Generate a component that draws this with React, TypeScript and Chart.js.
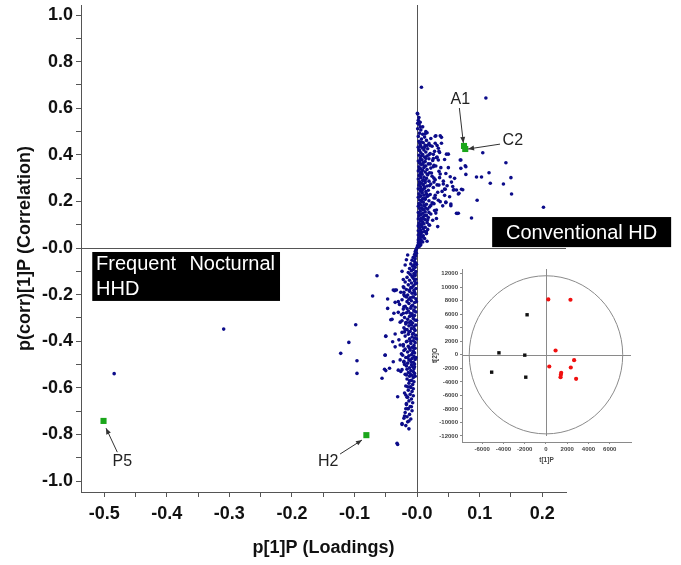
import { useEffect, useRef } from 'react';
import { Chart, registerables } from 'chart.js';

Chart.register(...registerables);

const FONT = "Arial, 'Liberation Sans', sans-serif";

// ---------- axis ticks ----------
const mainXTicks = [-0.5, -0.45, -0.4, -0.35, -0.3, -0.25, -0.2, -0.15, -0.1, -0.05, 0, 0.05, 0.1, 0.15, 0.2];
const mainXLabels = ['-0.5', '', '-0.4', '', '-0.3', '', '-0.2', '', '-0.1', '', '-0.0', '', '0.1', '', '0.2'];
const mainYTicks = [-1.0, -0.9, -0.8, -0.7, -0.6, -0.5, -0.4, -0.3, -0.2, -0.1, 0, 0.1, 0.2, 0.3, 0.4, 0.5, 0.6, 0.7, 0.8, 0.9, 1.0];
const mainYLabels = ['-1.0', '', '-0.8', '', '-0.6', '', '-0.4', '', '-0.2', '', '-0.0', '', '0.2', '', '0.4', '', '0.6', '', '0.8', '', '1.0'];
const insetXTicks = [-6000, -4000, -2000, 0, 2000, 4000, 6000];
const insetYTicks = [-12000, -10000, -8000, -6000, -4000, -2000, 0, 2000, 4000, 6000, 8000, 10000, 12000];

// ---------- S-plot data: [p[1]P loading, p(corr)[1]P correlation] ----------
const upperBand: [number, number][] = [
  [0.001,0.575],[0.002,0.548],[0.003,0.531],[0.001,0.512],[0.006,0.507],[0.004,0.493],[0.009,0.488],[0.002,0.479],[0.012,0.476],[0.007,0.468],
  [0.015,0.462],[0.003,0.458],[0.010,0.452],[0.019,0.449],[0.005,0.444],[0.013,0.441],[0.024,0.437],[0.002,0.433],[0.008,0.429],[0.017,0.426],
  [0.011,0.421],[0.004,0.418],[0.028,0.415],[0.014,0.412],[0.006,0.409],[0.021,0.405],[0.009,0.401],[0.003,0.398],[0.016,0.395],[0.012,0.391],
  [0.031,0.388],[0.005,0.386],[0.019,0.383],[0.008,0.379],[0.025,0.376],[0.002,0.373],[0.013,0.371],[0.010,0.367],[0.004,0.364],[0.018,0.361],
  [0.007,0.358],[0.027,0.355],[0.014,0.352],[0.003,0.349],[0.011,0.346],[0.022,0.343],[0.006,0.340],[0.016,0.337],[0.009,0.334],[0.002,0.331],
  [0.035,0.329],[0.013,0.326],[0.020,0.323],[0.005,0.320],[0.008,0.317],[0.017,0.314],[0.003,0.311],[0.024,0.308],[0.011,0.305],[0.006,0.302],
  [0.015,0.299],[0.002,0.296],[0.029,0.293],[0.009,0.290],[0.019,0.287],[0.004,0.284],[0.013,0.281],[0.007,0.278],[0.022,0.275],[0.010,0.272],
  [0.003,0.269],[0.016,0.266],[0.006,0.263],[0.026,0.260],[0.012,0.257],[0.002,0.254],[0.009,0.251],[0.018,0.248],[0.005,0.245],[0.014,0.242],
  [0.033,0.239],[0.008,0.236],[0.003,0.233],[0.021,0.230],[0.011,0.227],[0.006,0.224],[0.016,0.221],[0.002,0.218],[0.027,0.215],[0.009,0.212],
  [0.013,0.209],[0.004,0.206],[0.019,0.203],[0.007,0.200],[0.010,0.197],[0.024,0.194],[0.003,0.191],[0.015,0.188],[0.006,0.185],[0.012,0.182],
  [0.002,0.179],[0.020,0.176],[0.008,0.173],[0.004,0.170],[0.017,0.167],[0.011,0.164],[0.028,0.161],[0.005,0.158],[0.013,0.155],[0.002,0.152],
  [0.009,0.149],[0.022,0.146],[0.006,0.143],[0.015,0.140],[0.003,0.137],[0.010,0.134],[0.018,0.131],[0.007,0.128],[0.002,0.125],[0.013,0.122],
  [0.025,0.119],[0.005,0.116],[0.009,0.113],[0.016,0.110],[0.003,0.107],[0.011,0.104],[0.006,0.101],[0.020,0.098],[0.002,0.095],[0.008,0.092],
  [0.013,0.089],[0.004,0.086],[0.010,0.083],[0.017,0.080],[0.006,0.077],[0.002,0.074],[0.012,0.071],[0.008,0.068],[0.004,0.065],[0.015,0.062],
  [0.006,0.059],[0.002,0.056],[0.010,0.053],[0.005,0.050],[0.008,0.047],[0.003,0.044],[0.012,0.041],[0.005,0.038],[0.002,0.035],[0.007,0.032],
  [0.004,0.029],[0.009,0.026],[0.002,0.023],[0.005,0.020],[0.003,0.017],[0.006,0.014],[0.001,0.011],[0.004,0.008],[0.002,0.005],[0.000,0.002],
  [0.004,0.452],[0.006,0.437],[0.003,0.422],[0.007,0.395],[0.005,0.376],[0.009,0.362],[0.004,0.341],[0.007,0.327],[0.005,0.309],[0.010,0.293],
  [0.004,0.276],[0.006,0.256],[0.008,0.241],[0.004,0.221],[0.007,0.204],[0.005,0.187],[0.009,0.165],[0.004,0.146],[0.006,0.121],[0.003,0.094],
  [0.005,0.071],[0.007,0.455],[0.012,0.432],[0.014,0.384],[0.012,0.352],[0.016,0.318],[0.013,0.289],[0.012,0.262],[0.015,0.233],[0.013,0.213],
  [0.011,0.184],[0.014,0.172],[0.012,0.139],[0.009,0.126],[0.008,0.104],[0.021,0.361],[0.023,0.322],[0.020,0.268],[0.018,0.225],[0.022,0.183],
  [0.019,0.153],[0.017,0.121],[0.026,0.402],[0.030,0.352],[0.027,0.283],[0.029,0.226],[0.026,0.192],[0.032,0.271],[0.034,0.205],[0.036,0.302],
  [0.040,0.243],[0.038,0.345],[0.042,0.287],[0.044,0.226],[0.041,0.181],[0.048,0.267],[0.046,0.320],[0.050,0.345],[0.052,0.220],[0.055,0.283],
  [0.057,0.264],[0.035,0.415],[0.032,0.440],[0.022,0.470],[0.014,0.500],[0.009,0.520],[0.003,0.560],[0.005,0.540],
];

const lowerBand: [number, number][] = [
  [-0.001,-0.004],[-0.002,-0.010],[-0.003,-0.016],[-0.001,-0.022],[-0.004,-0.028],[-0.002,-0.034],[-0.006,-0.040],[-0.003,-0.046],[-0.008,-0.052],[-0.004,-0.058],
  [-0.002,-0.064],[-0.010,-0.068],[-0.005,-0.072],[-0.007,-0.078],[-0.003,-0.083],[-0.012,-0.088],[-0.006,-0.092],[-0.009,-0.097],[-0.002,-0.101],[-0.014,-0.105],
  [-0.005,-0.109],[-0.011,-0.113],[-0.003,-0.118],[-0.008,-0.122],[-0.016,-0.126],[-0.006,-0.130],[-0.002,-0.134],[-0.012,-0.138],[-0.004,-0.142],[-0.019,-0.146],
  [-0.009,-0.150],[-0.003,-0.154],[-0.014,-0.158],[-0.006,-0.162],[-0.022,-0.166],[-0.010,-0.170],[-0.002,-0.174],[-0.017,-0.178],[-0.005,-0.182],[-0.012,-0.186],
  [-0.026,-0.190],[-0.008,-0.194],[-0.003,-0.198],[-0.015,-0.202],[-0.020,-0.206],[-0.006,-0.210],[-0.011,-0.214],[-0.002,-0.218],[-0.024,-0.222],[-0.009,-0.226],
  [-0.016,-0.230],[-0.004,-0.234],[-0.013,-0.238],[-0.028,-0.242],[-0.007,-0.246],[-0.019,-0.250],[-0.003,-0.254],[-0.010,-0.258],[-0.022,-0.262],[-0.005,-0.266],
  [-0.014,-0.270],[-0.002,-0.274],[-0.017,-0.278],[-0.008,-0.282],[-0.025,-0.286],[-0.004,-0.290],[-0.012,-0.294],[-0.020,-0.298],[-0.006,-0.302],[-0.015,-0.306],
  [-0.003,-0.310],[-0.010,-0.314],[-0.027,-0.318],[-0.007,-0.322],[-0.018,-0.326],[-0.002,-0.330],[-0.013,-0.334],[-0.005,-0.338],[-0.021,-0.342],[-0.009,-0.346],
  [-0.016,-0.350],[-0.003,-0.354],[-0.011,-0.358],[-0.024,-0.362],[-0.006,-0.366],[-0.014,-0.370],[-0.002,-0.374],[-0.019,-0.378],[-0.008,-0.382],[-0.004,-0.386],
  [-0.012,-0.390],[-0.029,-0.394],[-0.006,-0.398],[-0.017,-0.402],[-0.003,-0.406],[-0.010,-0.410],[-0.022,-0.414],[-0.005,-0.418],[-0.014,-0.422],[-0.008,-0.426],
  [-0.003,-0.430],[-0.019,-0.434],[-0.011,-0.438],[-0.006,-0.442],[-0.015,-0.446],[-0.004,-0.450],[-0.025,-0.454],[-0.009,-0.458],[-0.013,-0.462],[-0.005,-0.466],
  [-0.018,-0.470],[-0.008,-0.474],[-0.003,-0.478],[-0.011,-0.482],[-0.021,-0.486],[-0.006,-0.490],[-0.015,-0.494],[-0.004,-0.498],[-0.009,-0.502],[-0.017,-0.506],
  [-0.007,-0.510],[-0.012,-0.514],[-0.005,-0.518],[-0.024,-0.522],[-0.010,-0.526],[-0.006,-0.530],[-0.014,-0.534],[-0.004,-0.538],[-0.019,-0.542],[-0.008,-0.546],
  [-0.012,-0.550],[-0.006,-0.556],[-0.016,-0.562],[-0.009,-0.568],[-0.005,-0.574],[-0.013,-0.580],[-0.007,-0.586],[-0.018,-0.592],[-0.010,-0.598],[-0.006,-0.604],
  [-0.014,-0.610],[-0.008,-0.616],[-0.020,-0.622],[-0.011,-0.628],[-0.006,-0.634],[-0.015,-0.640],[-0.009,-0.648],[-0.013,-0.656],[-0.007,-0.664],[-0.017,-0.672],
  [-0.011,-0.680],[-0.014,-0.690],[-0.008,-0.698],[-0.019,-0.706],[-0.012,-0.714],[-0.016,-0.724],[-0.010,-0.734],[-0.015,-0.746],[-0.018,-0.762],[-0.013,-0.776],
  [-0.001,-0.070],[-0.003,-0.110],[-0.001,-0.150],[-0.004,-0.190],[-0.001,-0.230],[-0.005,-0.270],[-0.001,-0.310],[-0.004,-0.350],[-0.001,-0.390],[-0.005,-0.430],
  [-0.002,-0.470],[-0.004,-0.510],[-0.003,-0.550],[-0.007,-0.120],[-0.008,-0.170],[-0.007,-0.210],[-0.009,-0.250],[-0.008,-0.290],[-0.009,-0.330],[-0.007,-0.370],
  [-0.010,-0.400],[-0.007,-0.450],[-0.009,-0.490],[-0.011,-0.540],[-0.012,-0.180],[-0.013,-0.220],[-0.011,-0.280],[-0.012,-0.320],[-0.013,-0.360],[-0.012,-0.430],
  [-0.013,-0.480],[-0.016,-0.400],[-0.018,-0.320],[-0.017,-0.210],[-0.016,-0.260],[-0.015,-0.470],[-0.016,-0.520],[-0.020,-0.360],[-0.021,-0.440],[-0.022,-0.280],
  [-0.020,-0.500],[-0.021,-0.190],
];

const scatteredUpper: [number, number][] = [
  [0.007,0.690],[0.110,0.644],[0.202,0.175],[0.142,0.366],[0.150,0.302],[0.151,0.232],[0.138,0.275],[0.117,0.278],[0.115,0.323],[0.105,0.409],
  [0.103,0.305],[0.095,0.305],[0.096,0.205],[0.087,0.129],[0.078,0.316],[0.070,0.378],[0.077,0.353],[0.070,0.342],[0.060,0.299],[0.053,0.306],
  [0.071,0.252],[0.067,0.235],[0.063,0.249],[0.058,0.249],[0.063,0.149],[0.066,0.149],[0.054,0.189],[0.046,0.197],[0.050,0.403],[0.039,0.475],
  [0.030,0.482],[0.016,0.495],[0.037,0.318],[0.033,0.092],[0.016,0.029],[0.045,0.252],[0.042,0.275],[0.035,0.270],[0.031,0.163],[0.027,0.190],
  [0.029,0.215],[0.027,0.300],[0.026,0.349],[0.034,0.378],[0.019,0.400],[0.026,0.384],[0.016,0.440],[0.021,0.440],[0.078,0.349],[0.073,0.250],
  [0.066,0.232],[0.046,0.195],[0.037,0.199],[0.031,0.127],[0.030,0.150],[0.019,0.100],[0.015,0.070],[0.0005,0.578],[0.001,0.535],[0.005,0.520],
  [0.013,0.490],[0.029,0.480],[0.037,0.482],[0.039,0.450],[0.029,0.450],[0.034,0.428],[0.036,0.410],[0.047,0.403],[0.044,0.380],[0.032,0.390],
  [0.069,0.378],[0.044,0.253],[0.059,0.250],[0.054,0.182],[0.064,0.148],
];

const scatteredLower: [number, number][] = [
  [-0.309,-0.348],[-0.484,-0.539],[-0.064,-0.119],[-0.071,-0.206],[-0.047,-0.219],[-0.098,-0.329],[-0.109,-0.405],[-0.050,-0.379],[-0.042,-0.308],[-0.039,-0.402],
  [-0.035,-0.369],[-0.030,-0.276],[-0.035,-0.233],[-0.030,-0.230],[-0.036,-0.183],[-0.033,-0.180],[-0.024,-0.100],[-0.022,-0.135],[-0.021,-0.170],[-0.021,-0.200],
  [-0.019,-0.073],[-0.017,-0.050],[-0.015,-0.030],[-0.021,-0.252],[-0.024,-0.312],[-0.017,-0.320],[-0.019,-0.350],[-0.027,-0.416],[-0.022,-0.420],[-0.122,-0.452],
  [-0.096,-0.484],[-0.096,-0.538],[-0.056,-0.559],[-0.050,-0.526],[-0.044,-0.516],[-0.051,-0.459],[-0.038,-0.488],[-0.030,-0.524],[-0.026,-0.530],[-0.027,-0.480],
  [-0.021,-0.490],[-0.023,-0.460],[-0.035,-0.424],[-0.017,-0.545],[-0.015,-0.595],[-0.011,-0.595],[-0.012,-0.570],[-0.031,-0.638],[-0.018,-0.631],[-0.016,-0.640],
  [-0.017,-0.667],[-0.018,-0.690],[-0.015,-0.690],[-0.009,-0.681],[-0.020,-0.721],[-0.013,-0.742],[-0.024,-0.757],[-0.031,-0.843],[-0.047,-0.259],[-0.052,-0.520],
  [-0.050,-0.378],[-0.051,-0.460],[-0.040,-0.306],[-0.037,-0.280],[-0.038,-0.180],[-0.035,-0.180],[-0.032,-0.838],[-0.024,-0.753],[-0.021,-0.730],
];

// highlighted variables (green) with their label and arrow positions (data units)
const highlightNames = ['A1', 'C2', 'P5', 'H2'];
const highlightX = [0.075, 0.077, -0.501, -0.081];
const highlightY = [0.438, 0.425, -0.742, -0.803];
const labelX = [0.069, 0.153, -0.471, -0.142];
const labelY = [0.635, 0.459, -0.918, -0.918];
const arrowTailX = [0.0676, 0.1326, -0.479, -0.123];
const arrowTailY = [0.601, 0.446, -0.876, -0.884];
const arrowHeadX = [0.074, 0.0815, -0.497, -0.088];
const arrowHeadY = [0.451, 0.425, -0.773, -0.824];

// ---------- Inset score plot ----------
const groupBlackT1 = [-1776, -4424, -1994, -5109, -1900];
const groupBlackT2 = [5926, 296, -49, -2568, -3309];
const groupRedT1 = [218, 2305, 903, 312, 2648, 2336, 1433, 1402, 1371, 2835];
const groupRedT2 = [8198, 8148, 642, -1728, -790, -1877, -2667, -2963, -3309, -3556];
const ellipseRadiusT1 = 7220;
const ellipseRadiusT2 = 11700;

function arrow(ctx: CanvasRenderingContext2D, x1: number, y1: number, x2: number, y2: number) {
  ctx.beginPath();
  ctx.moveTo(x1, y1);
  ctx.lineTo(x2, y2);
  ctx.stroke();
  const a = Math.atan2(y2 - y1, x2 - x1);
  const L = 6, W = 2.5;
  ctx.beginPath();
  ctx.moveTo(x2, y2);
  ctx.lineTo(x2 - L * Math.cos(a) + W * Math.sin(a), y2 - L * Math.sin(a) - W * Math.cos(a));
  ctx.lineTo(x2 - L * Math.cos(a) - W * Math.sin(a), y2 - L * Math.sin(a) + W * Math.cos(a));
  ctx.closePath();
  ctx.fill();
}

const setTicks = (values: number[]) => (s: any) => {
  s.ticks = values.map((value) => ({ value }));
};

const fitBox = (size: number, horizontal: boolean) => (s: any) => {
  if (horizontal) {
    s.height = size;
    s.paddingLeft = 0;
    s.paddingRight = 0;
  } else {
    s.width = size;
    s.paddingTop = 0;
    s.paddingBottom = 0;
  }
};

const mainDecor = {
  id: 'mainDecor',
  beforeDatasetsDraw(chart: any) {
    const { ctx, chartArea, scales } = chart;
    const x0 = scales.x.getPixelForValue(0);
    const y0 = scales.y.getPixelForValue(0);
    ctx.save();
    ctx.strokeStyle = '#555';
    ctx.lineWidth = 1;
    ctx.beginPath();
    ctx.moveTo(Math.round(x0) + 0.5, chartArea.top);
    ctx.lineTo(Math.round(x0) + 0.5, chartArea.bottom);
    ctx.moveTo(chartArea.left, Math.round(y0) + 0.5);
    ctx.lineTo(chartArea.right, Math.round(y0) + 0.5);
    ctx.stroke();
    ctx.restore();
  },
  afterDraw(chart: any) {
    const { ctx, scales } = chart;
    const px = (v: number) => scales.x.getPixelForValue(v);
    const py = (v: number) => scales.y.getPixelForValue(v);
    ctx.save();
    let bx1 = px(0.120), bx2 = px(0.406), by1 = py(0.133), by2 = py(0.004);
    ctx.fillStyle = '#000';
    ctx.fillRect(bx1, by1, bx2 - bx1, by2 - by1);
    ctx.fillStyle = '#fff';
    ctx.font = `20px ${FONT}`;
    ctx.textAlign = 'center';
    ctx.textBaseline = 'middle';
    ctx.fillText('Conventional HD', (bx1 + bx2) / 2, (by1 + by2) / 2 + 1);
    bx1 = px(-0.519); bx2 = px(-0.219); by1 = py(-0.017); by2 = py(-0.227);
    ctx.fillStyle = '#000';
    ctx.fillRect(bx1, by1, bx2 - bx1, by2 - by1);
    ctx.fillStyle = '#fff';
    ctx.textAlign = 'left';
    ctx.fillText('Frequent', px(-0.513), py(-0.069));
    ctx.fillText('HHD', px(-0.513), py(-0.176));
    ctx.textAlign = 'right';
    ctx.fillText('Nocturnal', px(-0.227), py(-0.069));
    ctx.strokeStyle = '#333';
    ctx.lineWidth = 1;
    ctx.font = `16px ${FONT}`;
    ctx.textAlign = 'center';
    highlightNames.forEach((n, i) => {
      ctx.fillStyle = '#222';
      ctx.fillText(n, px(labelX[i]), py(labelY[i]));
      ctx.fillStyle = '#333';
      arrow(ctx, px(arrowTailX[i]), py(arrowTailY[i]), px(arrowHeadX[i]), py(arrowHeadY[i]));
    });
    ctx.restore();
  },
};

const insetDecor = {
  id: 'insetDecor',
  beforeDatasetsDraw(chart: any) {
    const { ctx, chartArea, scales } = chart;
    const x0 = scales.x.getPixelForValue(0);
    const y0 = scales.y.getPixelForValue(0);
    ctx.save();
    ctx.strokeStyle = '#8a8a8a';
    ctx.lineWidth = 1;
    ctx.beginPath();
    ctx.moveTo(Math.round(x0) + 0.5, chartArea.top);
    ctx.lineTo(Math.round(x0) + 0.5, chartArea.bottom - 6);
    ctx.moveTo(chartArea.left, Math.round(y0) + 0.5);
    ctx.lineTo(chartArea.right, Math.round(y0) + 0.5);
    ctx.stroke();
    const rx = Math.abs(scales.x.getPixelForValue(ellipseRadiusT1) - x0);
    const ry = Math.abs(scales.y.getPixelForValue(ellipseRadiusT2) - y0);
    ctx.beginPath();
    ctx.ellipse(x0, y0, rx, ry, 0, 0, Math.PI * 2);
    ctx.stroke();
    ctx.restore();
  },
};

export default function App() {
  const mainRef = useRef<HTMLCanvasElement>(null);
  const insetRef = useRef<HTMLCanvasElement>(null);

  useEffect(() => {
    const blue = [...upperBand, ...lowerBand, ...scatteredUpper, ...scatteredLower].map(([x, y]) => ({ x, y }));
    const green = highlightX.map((x, i) => ({ x, y: highlightY[i] }));
    const tickFont = { family: FONT, size: 18, weight: 'bold' as const };
    const main = new Chart(mainRef.current!, {
      type: 'scatter',
      data: {
        datasets: [
          { data: blue, backgroundColor: '#0c0c8a', borderWidth: 0, pointRadius: 1.8, pointHoverRadius: 1.8 },
          { data: green, backgroundColor: '#1aa61a', borderColor: '#1aa61a', borderWidth: 0, pointStyle: 'rect', pointRadius: 4.3 },
        ],
      },
      options: {
        responsive: false,
        animation: false,
        events: [],
        layout: { padding: { top: 5, right: 115, left: 0, bottom: 0 } },
        plugins: { legend: { display: false }, tooltip: { enabled: false } },
        scales: {
          x: {
            type: 'linear',
            min: -0.537,
            max: 0.238,
            afterBuildTicks: setTicks(mainXTicks),
            afterFit: fitBox(73, true),
            border: { display: true, color: '#555', width: 1 },
            grid: { drawOnChartArea: false, drawTicks: true, tickLength: 5, tickColor: '#555' },
            ticks: { autoSkip: false, maxRotation: 0, padding: 6, color: '#111', font: tickFont, callback: (_v: any, i: number) => mainXLabels[i] },
            title: { display: true, text: 'p[1]P (Loadings)', color: '#111', font: tickFont, padding: { top: 6, bottom: 6 } },
          },
          y: {
            type: 'linear',
            min: -1.047,
            max: 1.043,
            afterBuildTicks: setTicks(mainYTicks),
            afterFit: fitBox(81, false),
            border: { display: true, color: '#555', width: 1 },
            grid: { drawOnChartArea: false, drawTicks: true, tickLength: 5, tickColor: '#555' },
            ticks: { autoSkip: false, padding: 3, color: '#111', font: tickFont, callback: (_v: any, i: number) => mainYLabels[i] },
            title: { display: true, text: 'p(corr)[1]P (Correlation)', color: '#111', font: tickFont, padding: { top: 14, bottom: 0 } },
          },
        },
      },
      plugins: [mainDecor],
    });

    const smallFont = { family: FONT, size: 6, weight: 'bold' as const };
    const inset = new Chart(insetRef.current!, {
      type: 'scatter',
      data: {
        datasets: [
          { data: groupBlackT1.map((x, i) => ({ x, y: groupBlackT2[i] })), backgroundColor: '#111', borderWidth: 0, pointStyle: 'rect', pointRadius: 2.4 },
          { data: groupRedT1.map((x, i) => ({ x, y: groupRedT2[i] })), backgroundColor: '#f01010', borderWidth: 0, pointRadius: 2.1 },
        ],
      },
      options: {
        responsive: false,
        animation: false,
        events: [],
        layout: { padding: { top: 9, right: 19, left: 0, bottom: 0 } },
        plugins: { legend: { display: false }, tooltip: { enabled: false } },
        scales: {
          x: {
            type: 'linear',
            min: -7900,
            max: 8000,
            afterBuildTicks: setTicks(insetXTicks),
            afterFit: fitBox(28, true),
            border: { display: true, color: '#8a8a8a', width: 1 },
            grid: { drawOnChartArea: false, drawTicks: true, tickLength: 2, tickColor: '#8a8a8a' },
            ticks: { autoSkip: false, maxRotation: 0, padding: 2, color: '#444', font: smallFont, callback: (v: any) => String(v) },
            title: { display: true, text: 't[1]P', color: '#444', font: { ...smallFont, size: 6.5 }, padding: { top: 6, bottom: 6 } },
          },
          y: {
            type: 'linear',
            min: -12900,
            max: 12700,
            afterBuildTicks: setTicks(insetYTicks),
            afterFit: fitBox(32, false),
            border: { display: true, color: '#8a8a8a', width: 1 },
            grid: { drawOnChartArea: false, drawTicks: true, tickLength: 2, tickColor: '#8a8a8a' },
            ticks: { autoSkip: false, padding: 2, color: '#444', font: smallFont, callback: (v: any) => String(v) },
            title: { display: true, text: 't[2]O', color: '#444', font: { ...smallFont, size: 6.5 }, padding: { top: 1, bottom: 0 } },
          },
        },
      },
      plugins: [insetDecor],
    });

    return () => {
      main.destroy();
      inset.destroy();
    };
  }, []);

  return (
    <div style={{ position: 'absolute', left: 0, top: 0, width: 681, height: 565, background: '#fff' }}>
      <canvas ref={mainRef} width={681} height={565} style={{ position: 'absolute', left: 0, top: 0, width: 681, height: 565 }} />
      <canvas ref={insetRef} width={220} height={210} style={{ position: 'absolute', left: 430, top: 260, width: 220, height: 210 }} />
    </div>
  );
}
